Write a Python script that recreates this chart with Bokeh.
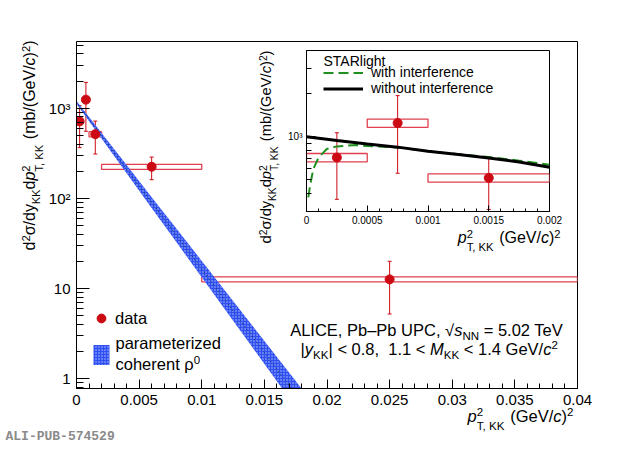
import math
from bokeh.plotting import figure
from bokeh.layouts import column, row
from bokeh.models import (ColumnDataSource, Whisker, TeeHead, FixedTicker, CustomJSTickFormatter,
                          Label, Legend, LegendItem, Range1d)
from bokeh.embed import file_html
from bokeh.resources import INLINE

# ---------------- data ----------------
pt2_center = [0.00025, 0.00075, 0.0015, 0.006, 0.025]
pt2_low = [0.0, 0.0005, 0.001, 0.002, 0.01]
pt2_high = [0.0005, 0.001, 0.002, 0.01, 0.04]
xsec = [715, 1245, 515, 224, 12.6]
stat_err = [350, 690, 205, 63, 7.4]
syst_err = [48, 82, 34, 14, 0.8]

band_pt2 = [0.0, 0.002, 0.004, 0.006, 0.008, 0.010, 0.012, 0.014, 0.016, 0.018, 0.020]
band_mid = [1159, 494, 211, 89.9, 38.4, 16.4, 6.98, 2.98, 1.27, 0.542, 0.231]
band_lo = [1120, 461, 190, 78.3, 32.3, 13.3, 5.48, 2.26, 0.93, 0.384, 0.158]
band_hi = [1200, 530, 234, 103, 45.7, 20.2, 8.89, 3.93, 1.73, 0.766, 0.338]

sl_pt2_noint = [0.0, 0.00025, 0.0005, 0.00075, 0.001, 0.00125, 0.0015, 0.00175, 0.002]
sl_noint = [1000, 940, 890, 845, 790, 750, 710, 665, 612]
sl_pt2_int = [0.000015, 0.00003, 0.000056, 0.0001, 0.000167, 0.00025, 0.00041, 0.0005,
              0.00075, 0.001, 0.00125, 0.0015, 0.00175, 0.002]
sl_int = [377, 458, 594, 716, 820, 855, 875, 860, 841, 790, 755, 720, 680, 637]

main_x_ticks = [0, 0.005, 0.01, 0.015, 0.02, 0.025, 0.03, 0.035, 0.04]
main_x_labels = ["0", "0.005", "0.01", "0.015", "0.02", "0.025", "0.03", "0.035", "0.04"]
main_y_ticks = [1, 10, 100, 1000]
main_y_labels = ["1", "10", "10²", "10³"]
inset_x_ticks = [0, 0.0005, 0.001, 0.0015, 0.002]
inset_x_labels = ["0", "0.0005", "0.001", "0.0015", "0.002"]
inset_y_ticks = [1000]
inset_y_labels = ["10³"]

# ---------------- styling ----------------
W, H = 612, 445
FONT = "Liberation Sans"
RED = "#cc0a14"
BOXRED = "#e0404e"
BLUE = "#2f4ff0"
GREEN = "#1f8f1f"

FMT_CODE = """
for (let i = 0; i < vals.length; i++) {
  if (Math.abs(tick - vals[i]) <= 1e-9 + 1e-6 * Math.abs(vals[i])) return labs[i];
}
return "";
"""


def fmt(vals, labs):
    return CustomJSTickFormatter(args=dict(vals=vals, labs=labs), code=FMT_CODE)


def minor_list(decades, lo, hi):
    out = []
    for d in decades:
        for k in range(2, 10):
            v = k * 10 ** d
            if lo <= v <= hi:
                out.append(v)
    return out


def style_axes(p, tick_font, xmaj, xmin, ymaj, ymin, standoff):
    for ax in (p.xaxis[0], p.yaxis[0]):
        ax.axis_line_color = "black"
        ax.major_tick_line_color = "black"
        ax.minor_tick_line_color = "black"
        ax.major_tick_out = 0
        ax.minor_tick_out = 0
        ax.major_label_text_font = FONT
        ax.major_label_text_font_size = tick_font
        ax.major_label_text_color = "black"
        ax.major_label_standoff = standoff
    p.xaxis[0].major_tick_in = xmaj
    p.xaxis[0].minor_tick_in = xmin
    p.yaxis[0].major_tick_in = ymaj
    p.yaxis[0].minor_tick_in = ymin
    p.xgrid.visible = False
    p.ygrid.visible = False
    p.outline_line_color = "black"
    p.outline_line_width = 1


# ---------------- text helper (rich text from pieces) ----------------
AW = {' ': 278, '(': 333, ')': 333, ',': 278, '-': 333, '.': 278, '/': 278, '<': 584, '=': 584,
      '>': 584, '|': 260, '√': 549, '–': 556, 'σ': 600, 'ρ': 572,
      'A': 667, 'B': 667, 'C': 722, 'D': 722, 'E': 667, 'F': 611, 'G': 778, 'H': 722, 'I': 278,
      'J': 500, 'K': 667, 'L': 556, 'M': 833, 'N': 722, 'O': 778, 'P': 667, 'Q': 778, 'R': 722,
      'S': 667, 'T': 611, 'U': 722, 'V': 667, 'W': 944, 'X': 667, 'Y': 667, 'Z': 611,
      'a': 556, 'b': 556, 'c': 500, 'd': 556, 'e': 556, 'f': 278, 'g': 556, 'h': 556, 'i': 222,
      'j': 222, 'k': 500, 'l': 222, 'm': 833, 'n': 556, 'o': 556, 'p': 556, 'q': 556, 'r': 333,
      's': 500, 't': 278, 'u': 556, 'v': 500, 'w': 722, 'x': 500, 'y': 500, 'z': 500}


def tw(s):
    return sum(AW.get(ch, 556) for ch in s) / 1000.0


SMALL = 0.7
SUP = 0.36
SUB = 0.30
SSUB = 0.45
MID = 0.35   # distance from baseline to the 'middle' anchor, in em


def piece_width(txt, kind, size):
    if kind == "ss":
        return max(tw(txt[0]), tw(txt[1])) * size * SMALL
    if kind in ("sup", "sub"):
        return tw(txt) * size * SMALL
    return tw(txt) * size


def put(p, s, along, perp, size, vertical, italic, color, font, style):
    lead = len(s) - len(s.lstrip(' '))
    off = tw(s[:lead]) * size
    t = s.strip(' ')
    if not t:
        return
    a = along + off
    perp = perp + MID * size
    if vertical:
        x, y, ang = -perp, a, math.pi / 2
    else:
        x, y, ang = a, perp, 0
    p.add_layout(Label(x=x, y=y, x_units="screen", y_units="screen", text=t, angle=ang,
                       text_font=font, text_font_size=f"{size:.2f}px", text_color=color,
                       text_font_style=("italic" if italic else style),
                       text_align="left", text_baseline="middle"))


def rich(p, along0, base, parts, size, align="left", vertical=False, color="black",
         font=FONT, style="normal"):
    total = sum(piece_width(t, k, size) for t, k in parts)
    if align == "right":
        a = along0 - total
    elif align == "center":
        a = along0 - total / 2
    else:
        a = along0
    for t, k in parts:
        b = -base if vertical else base
        if k in ("n", "i"):
            put(p, t, a, b, size, vertical, k == "i", color, font, style)
        elif k == "sup":
            put(p, t, a, b + SUP * size, size * SMALL, vertical, False, color, font, style)
        elif k == "sub":
            put(p, t, a, b - SUB * size, size * SMALL, vertical, False, color, font, style)
        elif k == "ss":
            put(p, t[0], a, b + SUP * size, size * SMALL, vertical, False, color, font, style)
            put(p, t[1], a, b - SSUB * size, size * SMALL, vertical, False, color, font, style)
        a += piece_width(t, k, size)


# frame edges in page pixels
MAIN_L, MAIN_R, MAIN_T, MAIN_B = 76, 577, 41, 388
INS_L, INS_R, INS_T, INS_B = 306, 549, 50, 211

# ---------------- main figure ----------------
main = figure(width=W, height=H, y_axis_type="log",
              x_range=Range1d(0, 0.04), y_range=Range1d(0.775, 5500),
              output_backend="svg", toolbar_location=None,
              min_border_left=MAIN_L, min_border_right=W - MAIN_R,
              min_border_top=MAIN_T, min_border_bottom=H - MAIN_B,
              background_fill_color="white", border_fill_color="white")
style_axes(main, "15px", 9, 5, 13, 7, 6)
main.xaxis[0].ticker = FixedTicker(ticks=main_x_ticks,
                                   minor_ticks=[i * 0.001 for i in range(0, 41)])
main.xaxis[0].formatter = fmt(main_x_ticks, main_x_labels)
main.yaxis[0].ticker = FixedTicker(ticks=main_y_ticks,
                                   minor_ticks=[0.8, 0.9] + minor_list([0, 1, 2, 3], 0.775, 5500))
main.yaxis[0].formatter = fmt(main_y_ticks, main_y_labels)

src = ColumnDataSource(dict(
    x=pt2_center, y=xsec, xl=pt2_low, xh=pt2_high,
    yl=[v - s for v, s in zip(xsec, syst_err)], yh=[v + s for v, s in zip(xsec, syst_err)],
    el=[v - e for v, e in zip(xsec, stat_err)], eh=[v + e for v, e in zip(xsec, stat_err)]))

main.quad(left="xl", right="xh", bottom="yl", top="yh", source=src,
          fill_alpha=0, line_color=BOXRED, line_width=1.3)
bsrc = ColumnDataSource(dict(x=band_pt2, mid=band_mid, lo=band_lo, hi=band_hi))
r_band = main.varea(x="x", y1="lo", y2="hi", source=bsrc, fill_color=BLUE, fill_alpha=1.0,
                    hatch_pattern="dot", hatch_color="#b8c4ff", hatch_scale=3, hatch_weight=1)
main.line(x="x", y="mid", source=bsrc, line_color="#0f3a30", line_width=1, line_dash="1 3")
main.add_layout(Whisker(source=src, base="x", upper="eh", lower="el", dimension="height",
                        line_color=RED, line_width=1,
                        upper_head=TeeHead(size=4, line_color=RED, line_width=1),
                        lower_head=TeeHead(size=4, line_color=RED, line_width=1)))
r_pts = main.scatter(x="x", y="y", source=src, size=9, fill_color=RED, line_color=RED)

leg1 = Legend(items=[LegendItem(label="data", renderers=[r_pts])],
              location=(90 - MAIN_L, MAIN_B - 329),
              padding=0, margin=0, glyph_width=22, glyph_height=22, label_standoff=3,
              label_text_font=FONT, label_text_font_size="16.5px", label_text_color="black",
              border_line_alpha=0, background_fill_alpha=0)
leg2 = Legend(items=[LegendItem(label=" ", renderers=[r_band])],
              location=(91 - MAIN_L, MAIN_B - 367),
              padding=0, margin=0, glyph_width=20, glyph_height=25, label_standoff=3,
              label_text_font=FONT, label_text_font_size="16.5px",
              border_line_alpha=0, background_fill_alpha=0)
main.add_layout(leg1)
main.add_layout(leg2)

# ---------------- inset figure ----------------
ins = figure(width=W, height=H, y_axis_type="log",
             x_range=Range1d(0, 0.002), y_range=Range1d(300, 4000),
             output_backend="svg", toolbar_location=None,
             min_border_left=INS_L, min_border_right=W - INS_R,
             min_border_top=INS_T, min_border_bottom=H - INS_B,
             background_fill_color=None, border_fill_color=None)
style_axes(ins, "10px", 6, 3, 9, 5, 4)
ins.xaxis[0].ticker = FixedTicker(ticks=inset_x_ticks, minor_ticks=[i * 0.0001 for i in range(0, 21)])
ins.xaxis[0].formatter = fmt(inset_x_ticks, inset_x_labels)
ins.yaxis[0].ticker = FixedTicker(ticks=inset_y_ticks, minor_ticks=minor_list([2, 3], 300, 4000))
ins.yaxis[0].formatter = fmt(inset_y_ticks, inset_y_labels)

keep = [i for i, x in enumerate(pt2_center) if x < 0.002]
isrc = ColumnDataSource({k: [v[i] for i in keep] for k, v in src.data.items()})
ins.quad(left="xl", right="xh", bottom="yl", top="yh", source=isrc,
         fill_alpha=0, line_color=BOXRED, line_width=1.3)
r_int = ins.line(sl_pt2_int, sl_int, line_color=GREEN, line_width=2, line_dash="10 5")
r_noint = ins.line(sl_pt2_noint, sl_noint, line_color="black", line_width=3)
ins.add_layout(Whisker(source=isrc, base="x", upper="eh", lower="el", dimension="height",
                       line_color=RED, line_width=1,
                       upper_head=TeeHead(size=4, line_color=RED, line_width=1),
                       lower_head=TeeHead(size=4, line_color=RED, line_width=1)))
ins.scatter(x="x", y="y", source=isrc, size=9, fill_color=RED, line_color=RED)

leg3 = Legend(items=[LegendItem(label="with interference", renderers=[r_int]),
                     LegendItem(label="without interference", renderers=[r_noint])],
              location=(17, 115), padding=0, margin=0, spacing=-8,
              glyph_width=40, glyph_height=13, label_height=13, label_standoff=8,
              label_text_font=FONT, label_text_font_size="14px", label_text_color="black",
              border_line_alpha=0, background_fill_alpha=0)
ins.add_layout(leg3)

# ---------------- text layer (frame = whole page, so nothing is clipped) ----------------
txt = figure(width=W, height=H, x_range=Range1d(0, 1), y_range=Range1d(0, 1),
             x_axis_type=None, y_axis_type=None, output_backend="svg", toolbar_location=None,
             min_border_left=0, min_border_right=0, min_border_top=0, min_border_bottom=0,
             background_fill_color=None, border_fill_color=None, outline_line_color=None)
txt.xgrid.visible = False
txt.ygrid.visible = False


def Y(v):
    return H - v


rich(txt, 323, Y(65), [("STARlight", "n")], 14)

rich(txt, 115, Y(348), [("parameterized", "n")], 16.5)
rich(txt, 115, Y(369), [("coherent ρ", "n"), ("0", "sup")], 16.5)

rich(txt, 573, Y(421.7),
     [("p", "i"), (("2", "T, KK"), "ss"), (" (GeV/", "n"), ("c", "i"), (")", "n"), ("2", "sup")],
     16.5, align="right")
rich(txt, Y(40), 35,
     [("d", "n"), ("2", "sup"), ("σ/dy", "n"), ("KK", "sub"), ("d", "n"), ("p", "i"),
      (("2", "T, KK"), "ss"), (" (mb/(GeV/", "n"), ("c", "i"), (")", "n"), ("2", "sup"), (")", "n")],
     16.0, align="right", vertical=True)

rich(txt, 427, Y(335),
     [("ALICE, Pb–Pb UPC, ", "n"), ("√", "n"), ("s", "i"), ("NN", "sub"), (" = 5.02 TeV", "n")],
     16.5, align="center")
rich(txt, 428.7, Y(354),
     [("|", "n"), ("y", "i"), ("KK", "sub"), ("| < 0.8,", "n"), ("  ", "n"), ("1.1 < ", "n"),
      ("M", "i"), ("KK", "sub"), (" < 1.4 GeV/", "n"), ("c", "i"), ("2", "sup")],
     16.5, align="center")

rich(txt, 5, Y(441), [("ALI-PUB-574529", "n")], 13, color="#8a8a8a",
     font="Liberation Mono", style="bold")

rich(txt, 560, Y(243),
     [("p", "i"), (("2", "T, KK"), "ss"), (" (GeV/", "n"), ("c", "i"), (")", "n"), ("2", "sup")],
     16.0, align="right")
rich(txt, Y(50), 271,
     [("d", "n"), ("2", "sup"), ("σ/dy", "n"), ("KK", "sub"), ("d", "n"), ("p", "i"),
      (("2", "T, KK"), "ss"), (" (mb/(GeV/", "n"), ("c", "i"), (")", "n"), ("2", "sup"), (")", "n")],
     14.7, align="right", vertical=True)

w1 = row(ins)
w1.margin = (-H, 0, 0, 0)
w2 = row(txt)
w2.margin = (-H, 0, 0, 0)
layout = column(main, w1, w2)
open("out.html", "w").write(file_html(layout, INLINE))
